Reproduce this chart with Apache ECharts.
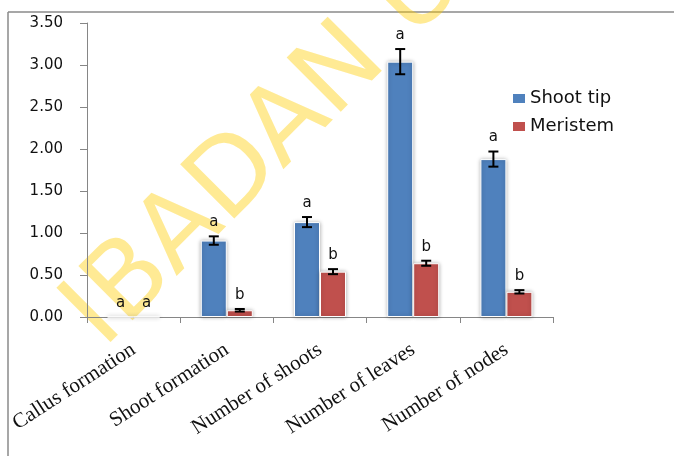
<!DOCTYPE html>
<html>
<head>
<meta charset="utf-8">
<script src="https://cdn.jsdelivr.net/npm/echarts@6/dist/echarts.min.js"></script>
<style>
  html, body { margin: 0; padding: 0; background: #fff; overflow: hidden; }
  #chart { width: 674px; height: 456px; }
</style>
</head>
<body>
<div id="chart"></div>
<script>
// ==================== data
const categories = ['Callus formation', 'Shoot formation', 'Number of shoots', 'Number of leaves', 'Number of nodes'];
const shootTip = [0, 0.91, 1.13, 3.04, 1.88];
const shootTipErr = [0, 0.05, 0.06, 0.15, 0.09];
const shootTipLetters = ['a', 'a', 'a', 'a', 'a'];
const meristem = [0, 0.08, 0.54, 0.64, 0.30];
const meristemErr = [0, 0.015, 0.03, 0.03, 0.02];
const meristemLetters = ['a', 'b', 'b', 'b', 'b'];

const BAR_W = 26;
const chart = echarts.init(document.getElementById('chart'));

// error bars + letter on top of each bar
const errorSeries = (name, values, errs, letters, side) => ({
  type: 'custom',
  name,
  z: 5,
  silent: true,
  data: values.map((v, i) => [i, v, errs[i]]),
  encode: { x: 0, y: 1 },
  renderItem: (params, api) => {
    const i = api.value(0);
    const v = api.value(1);
    const e = api.value(2);
    const x = api.coord([i, v])[0] + side * BAR_W / 2;
    const hi = api.coord([i, v + e])[1];
    const lo = api.coord([i, v - e])[1];
    const children = [];
    if (e > 0) {
      const ls = { stroke: '#000', lineWidth: 2 };
      children.push({ type: 'line', shape: { x1: x, y1: hi, x2: x, y2: lo }, style: ls });
      children.push({ type: 'line', shape: { x1: x - 5, y1: hi, x2: x + 5, y2: hi }, style: ls });
      children.push({ type: 'line', shape: { x1: x - 5, y1: lo, x2: x + 5, y2: lo }, style: ls });
    }
    children.push({
      type: 'text',
      style: {
        text: letters[params.dataIndex],
        x,
        y: hi - 14,
        align: 'center',
        verticalAlign: 'middle',
        font: '15px "DejaVu Sans"',
        fill: '#111',
      },
    });
    return { type: 'group', children };
  },
});

const barStyle = (color) => ({
  color,
  borderColor: '#fff',
  borderWidth: 1,
  shadowBlur: 4,
  shadowColor: 'rgba(0,0,0,0.3)',
});

chart.setOption({
  animation: false,
  grid: { left: 87, right: 121, top: 23, bottom: 139 },
  legend: {
    data: ['Shoot tip', 'Meristem'],
    orient: 'vertical',
    left: 508,
    top: 84,
    itemWidth: 12,
    itemHeight: 9,
    itemGap: 9,
    icon: 'rect',
    itemStyle: { borderWidth: 0, shadowBlur: 0 },
    textStyle: { fontFamily: 'DejaVu Sans', fontSize: 18, lineHeight: 19, color: '#111' },
  },
  graphic: [
    {
      type: 'line',
      z: -10,
      shape: { x1: 8, y1: 12, x2: 8, y2: 456 },
      style: { stroke: '#8a8a8a', lineWidth: 1.5 },
    },
    {
      type: 'line',
      z: -10,
      shape: { x1: 8, y1: 12, x2: 674, y2: 12 },
      style: { stroke: '#8a8a8a', lineWidth: 1.5 },
    },
    {
      type: 'text',
      z: -5,
      x: 84,
      y: 330,
      rotation: Math.PI / 4,
      style: {
        text: 'IBADAN UNIVERSITY LIBRARY',
        font: '105px "DejaVu Sans"',
        fill: 'rgba(255,204,0,0.42)',
        align: 'left',
        verticalAlign: 'middle',
      },
    },
  ],
  xAxis: {
    type: 'category',
    data: categories,
    axisLine: { lineStyle: { color: '#868686', width: 1 } },
    axisTick: { show: true, length: 6, lineStyle: { color: '#868686' } },
    axisLabel: {
      interval: 0,
      rotate: 33,
      margin: 31,
      fontFamily: 'Liberation Serif',
      fontSize: 21,
      color: '#111',
    },
  },
  yAxis: {
    type: 'value',
    min: 0,
    max: 3.5,
    interval: 0.5,
    splitLine: { show: false },
    axisLine: { show: true, lineStyle: { color: '#868686', width: 1 } },
    axisTick: { show: true, length: 7, lineStyle: { color: '#868686' } },
    axisLabel: {
      margin: 24,
      fontFamily: 'DejaVu Sans',
      fontSize: 15,
      color: '#111',
      formatter: (v) => v.toFixed(2),
    },
  },
  series: [
    {
      name: 'Shoot tip',
      type: 'bar',
      barWidth: BAR_W,
      barGap: '0%',
      itemStyle: barStyle('#4F81BD'),
      data: shootTip,
    },
    {
      name: 'Meristem',
      type: 'bar',
      barWidth: BAR_W,
      barGap: '0%',
      itemStyle: barStyle('#C0504D'),
      data: meristem,
    },
    errorSeries('Shoot tip err', shootTip, shootTipErr, shootTipLetters, -1),
    errorSeries('Meristem err', meristem, meristemErr, meristemLetters, 1),
  ],
});
</script>
</body>
</html>
